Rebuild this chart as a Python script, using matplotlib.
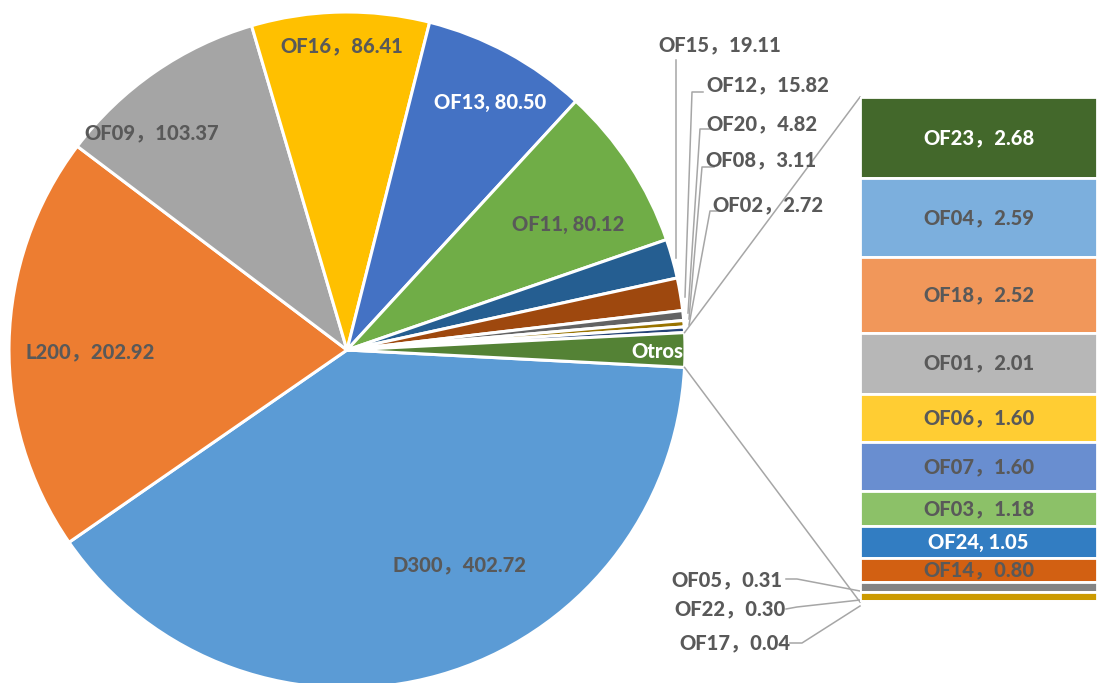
import numpy as np
import matplotlib
matplotlib.use('Agg')
from matplotlib import pyplot as plt

plt.rcParams['font.family'] = ['Lato', 'Noto Sans CJK SC', 'DejaVu Sans']

# main pie data (clockwise from the right)
pie_names = ['D300', 'L200', 'OF09', 'OF16', 'OF13', 'OF11',
             'OF15', 'OF12', 'OF20', 'OF08', 'OF02']
pie_values = [402.72, 202.92, 103.37, 86.41, 80.50, 80.12,
              19.11, 15.82, 4.82, 3.11, 2.72]

# the "Otros" slice is split into the bar
bar_names = ['OF23', 'OF04', 'OF18', 'OF01', 'OF06', 'OF07',
             'OF03', 'OF24', 'OF14', 'OF05', 'OF22', 'OF17']
bar_values = [2.68, 2.59, 2.52, 2.01, 1.60, 1.60,
              1.18, 1.05, 0.80, 0.31, 0.30, 0.04]

pie_colors = ['#5B9BD5', '#ED7D31', '#A5A5A5', '#FFC000', '#4472C4', '#70AD47',
              '#255E91', '#9E480E', '#636363', '#997300', '#264478', '#548235']
bar_colors = ['#43682B', '#7CAFDD', '#F1975A', '#B7B7B7', '#FFCD33', '#698ED0',
              '#8CC168', '#327DC2', '#D26012', '#848484', '#CC9A00', '#335AA1']

GREY = '#595959'
W, H = 1097, 683

def P(x, y):
    # pixel position -> data position of the main axes
    return x, H - y

otros = sum(bar_values)
all_values = pie_values + [otros]
total = sum(all_values)
otros_deg = otros / total * 360.0

fig = plt.figure(figsize=(W / 100, H / 100), dpi=100)
ax = fig.add_axes([0, 0, 1, 1])
cx, cy = P(347, 350)
R = 338
ax.pie(all_values, colors=pie_colors, startangle=-otros_deg / 2, counterclock=False,
       center=(cx, cy), radius=R,
       wedgeprops=dict(edgecolor='white', linewidth=2.2))
ax.set_xlim(0, W)
ax.set_ylim(0, H)
ax.set_aspect('equal')
ax.axis('off')

# labels inside / near the pie
sep = {'OF13': ', ', 'OF11': ', ', 'OF24': ', '}
def lab(name, v):
    return name + sep.get(name, '，') + '%.2f' % v

pie_lab_pos = {'D300': (460, 565), 'L200': (90, 352), 'OF09': (152, 133),
               'OF16': (342, 46), 'OF13': (490, 103), 'OF11': (568, 225),
               'OF15': (720, 45), 'OF12': (768, 85), 'OF20': (762, 124),
               'OF08': (761, 160), 'OF02': (768, 205)}
fs = 14.5
fw = 'black'
for n, v in zip(pie_names, pie_values):
    c = 'white' if n == 'OF13' else GREY
    x, y = P(*pie_lab_pos[n])
    ax.text(x, y, lab(n, v), ha='center', va='center', color=c, fontsize=fs, fontweight=fw)
x, y = P(657, 352)
ax.text(x, y, 'Otros', ha='center', va='center', color='white', fontsize=fs, fontweight=fw)

# leader lines for the small slices
leaders = [[(676, 60), (676, 258)],
           [(703, 92), (692, 92), (685, 297)],
           [(712, 129), (700, 129), (688, 313)],
           [(714, 167), (702, 167), (689, 319)],
           [(722, 211), (710, 211), (689, 325)]]
for pts in leaders:
    xs, ys = zip(*[P(*p) for p in pts])
    ax.plot(xs, ys, color='#A6A6A6', lw=1.1)

# connector lines pie -> bar
a = np.deg2rad(otros_deg / 2)
bx0, by_top = P(860, 97)
_, by_bot = P(860, 602)
ax.plot([cx + R * np.cos(a), bx0], [cy + R * np.sin(a), by_top], color='#A6A6A6', lw=1.1)
ax.plot([cx + R * np.cos(a), bx0], [cy - R * np.sin(a), by_bot], color='#A6A6A6', lw=1.1)

# bar of the "Otros" parts
ax2 = fig.add_axes([860 / W, (H - 602) / H, 237 / W, 505 / H])
bottoms = np.cumsum([0] + bar_values[:-1])
ax2.bar([0] * len(bar_values), bar_values, bottom=bottoms, width=1.0,
        color=bar_colors, edgecolor='white', linewidth=2)
ax2.set_xlim(-0.5, 0.5)
ax2.set_ylim(otros, 0)
ax2.axis('off')
for n, v, b in zip(bar_names[:9], bar_values[:9], bottoms[:9]):
    c = 'white' if n in ('OF23', 'OF24') else GREY
    ax2.text(0, b + v / 2, lab(n, v), ha='center', va='center', color=c, fontsize=fs, fontweight=fw)

# outside labels for the tiny bar pieces
out_lab = {'OF05': ((727, 580), [(786, 579), (797, 579), (860, 591)]),
           'OF22': ((730, 609), [(786, 609), (797, 607), (860, 600)]),
           'OF17': ((735, 643), [(790, 643), (802, 643), (860, 606)])}
for n, v in zip(bar_names[9:], bar_values[9:]):
    pos, pts = out_lab[n]
    x, y = P(*pos)
    ax.text(x, y, lab(n, v), ha='center', va='center', color=GREY, fontsize=fs, fontweight=fw)
    xs, ys = zip(*[P(*p) for p in pts])
    ax.plot(xs, ys, color='#A6A6A6', lw=1.1)

fig.savefig('out.png', dpi=100)
